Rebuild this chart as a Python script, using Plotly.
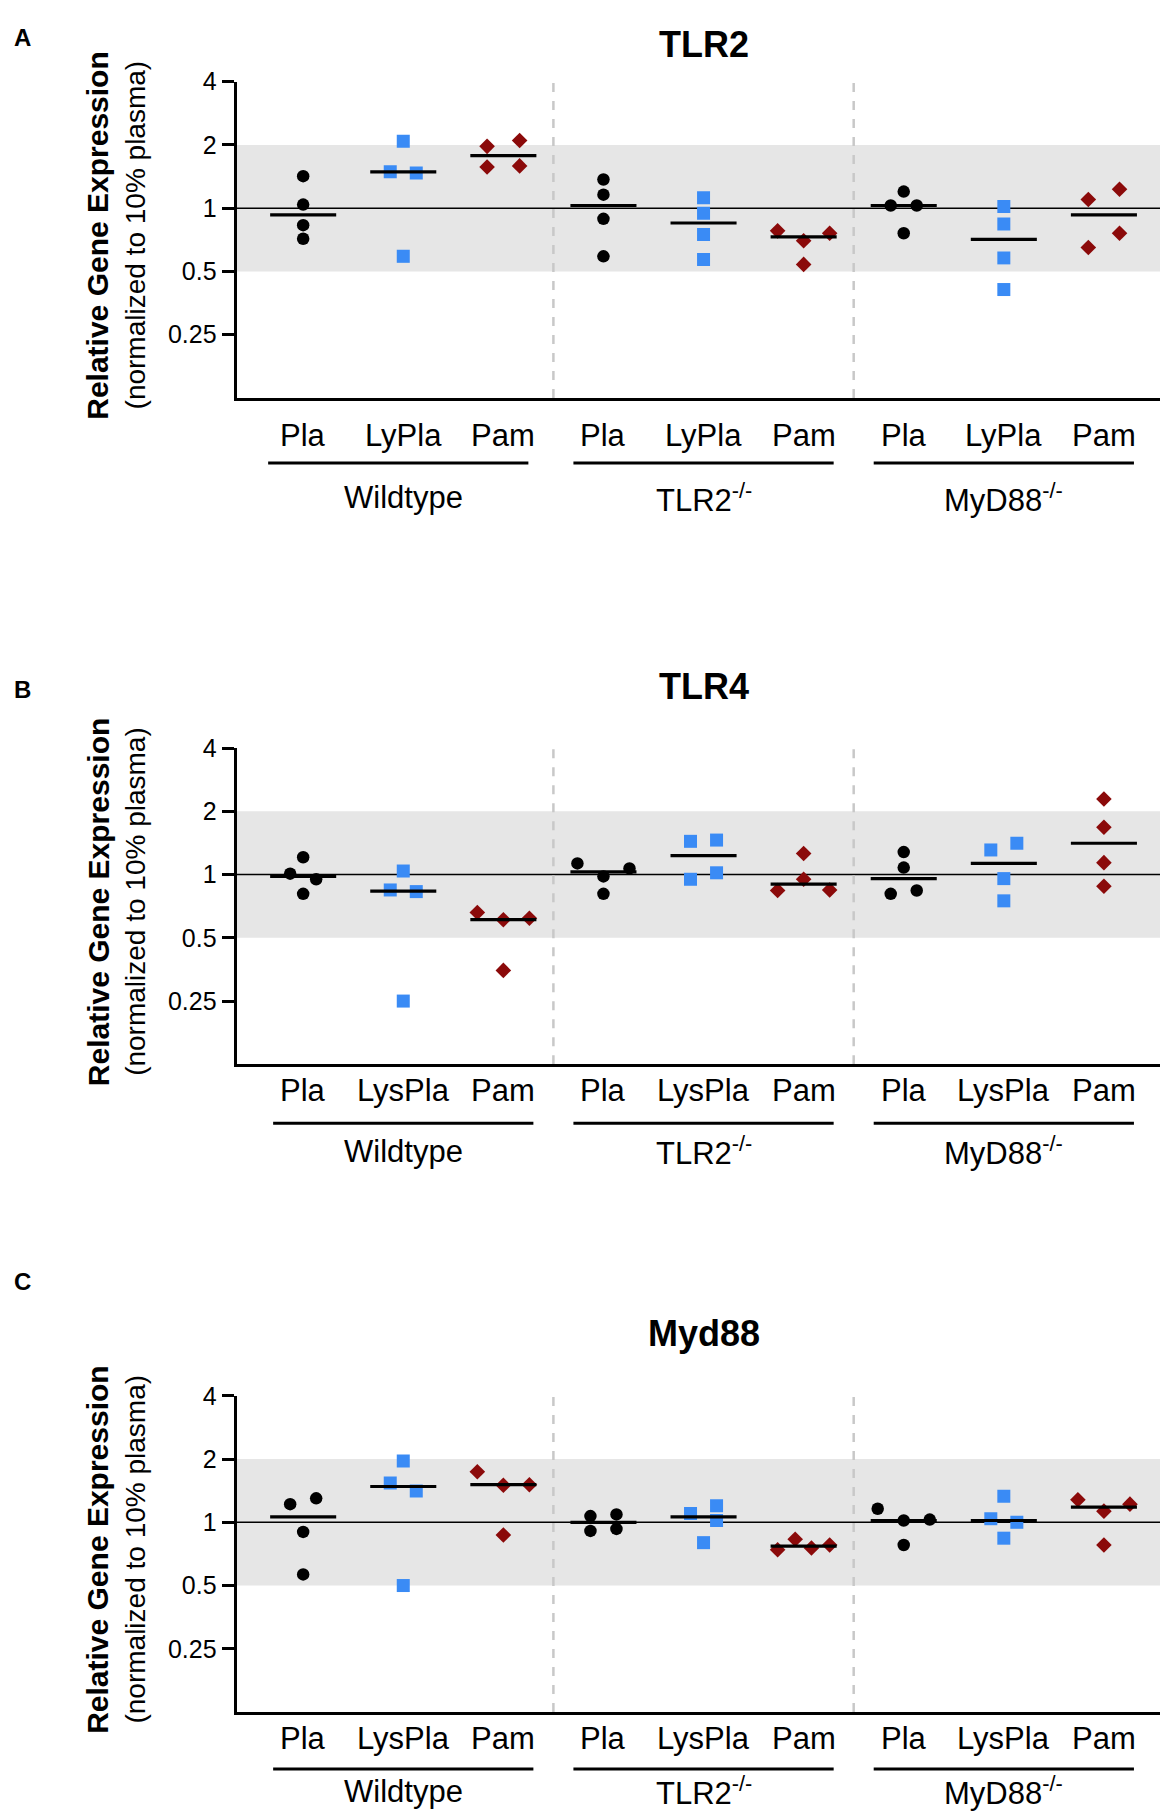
import math
import plotly.graph_objects as go

# Categories / labels
GROUPS = ["Wildtype", "TLR2<sup>-/-</sup>", "MyD88<sup>-/-</sup>"]
TREATMENTS_A = ["Pla", "LyPla", "Pam"]
TREATMENTS_BC = ["Pla", "LysPla", "Pam"]
TICK_VALUES = [0.25, 0.5, 1, 2, 4]
TICK_LABELS = ["0.25", "0.5", "1", "2", "4"]

# Order of the 9 columns: WT Pla, WT Ly, WT Pam, TLR2 Pla, TLR2 Ly, TLR2 Pam, MyD88 Pla, MyD88 Ly, MyD88 Pam
# --- TLR2 panel (A)
tlr2_values = [
    [1.42, 1.04, 0.83, 0.715],
    [2.08, 1.49, 1.47, 0.59],
    [1.97, 2.10, 1.57, 1.59],
    [1.37, 1.16, 0.89, 0.59],
    [1.12, 0.947, 0.75, 0.57],
    [0.78, 0.70, 0.76, 0.54],
    [1.20, 1.03, 1.03, 0.76],
    [1.02, 0.84, 0.58, 0.41],
    [1.10, 1.23, 0.65, 0.76],
]
tlr2_slots = [
    [0, 0, 0, 0], [0, -1, 1, 0], [-1.25, 1.25, -1.25, 1.25],
    [0, 0, 0, 0], [0, 0, 0, 0], [-2, 0, 2, 0],
    [0, -1, 1, 0], [0, 0, 0, 0], [-1.2, 1.2, -1.2, 1.2],
]
tlr2_medians = [0.93, 1.49, 1.78, 1.03, 0.85, 0.73, 1.03, 0.71, 0.93]

# --- TLR4 panel (B)
tlr4_values = [
    [1.21, 1.01, 0.95, 0.81],
    [1.04, 0.845, 0.83, 0.25],
    [0.66, 0.61, 0.62, 0.35],
    [1.13, 1.07, 0.98, 0.81],
    [1.44, 1.46, 0.95, 1.02],
    [1.26, 0.95, 0.84, 0.845],
    [1.28, 1.08, 0.81, 0.84],
    [1.31, 1.41, 0.957, 0.75],
    [2.29, 1.68, 1.14, 0.88],
]
tlr4_slots = [
    [0, -1, 1, 0], [0, -1, 1, 0], [-2, 0, 2, 0],
    [-2, 2, 0, 0], [-1, 1, -1, 1], [0, 0, -2, 2],
    [0, 0, -1, 1], [-1, 1, 0, 0], [0, 0, 0, 0],
]
tlr4_medians = [0.98, 0.835, 0.61, 1.03, 1.23, 0.90, 0.957, 1.13, 1.41]

# --- Myd88 panel (C)
myd88_values = [
    [1.22, 1.30, 0.90, 0.565],
    [1.96, 1.54, 1.41, 0.50],
    [1.74, 1.50, 1.51, 0.87],
    [1.07, 1.09, 0.91, 0.93],
    [1.10, 1.20, 1.02, 0.80],
    [0.83, 0.74, 0.755, 0.78],
    [1.16, 1.02, 1.03, 0.78],
    [1.33, 1.04, 1.00, 0.84],
    [1.28, 1.22, 1.13, 0.78],
]
myd88_slots = [
    [-1, 1, 0, 0], [0, -1, 1, 0], [-2, 0, 2, 0],
    [-1, 1, -1, 1], [-1, 1, 1, 0], [-0.65, -2, 0.6, 2],
    [-2, 0, 2, 0], [0, -1, 1, 0], [-2, 2, 0, 0],
]
myd88_medians = [1.06, 1.48, 1.51, 1.0, 1.06, 0.77, 1.02, 1.02, 1.18]

# Layout: positions measured on the reference page, mapped onto the figure
W, H = 1168, 1812
KX, OX = 1.0047, 8
KY, OY = 1.0084, 21.2
X_LEFT_PX, X_RIGHT_PX = 235.5, 1166
X_RANGE = [-0.665, 8.675]
PLOT_H = 316
SLOT = 0.13
HALF_MEAN = 0.33
FONT = "Arial, Liberation Sans, sans-serif"

panels = [
    dict(title="TLR2", letter="A", treatments=TREATMENTS_A, values=tlr2_values, slots=tlr2_slots,
         medians=tlr2_medians, top=80.7, letter_y=18, cat_dy=38, line_dy=65, group_dy=100,
         line_shift=-0.05),
    dict(title="TLR4", letter="B", treatments=TREATMENTS_BC, values=tlr4_values, slots=tlr4_slots,
         medians=tlr4_medians, top=746.7, letter_y=688, cat_dy=26, line_dy=59, group_dy=87,
         line_shift=0),
    dict(title="Myd88", letter="C", treatments=TREATMENTS_BC, values=myd88_values, slots=myd88_slots,
         medians=myd88_medians, top=1394, letter_y=1280, cat_dy=26, line_dy=57, group_dy=79,
         line_shift=0),
]

styles = [
    dict(symbol="circle", color="#000000", size=12.5),
    dict(symbol="square", color="#3a8bf5", size=13),
    dict(symbol="diamond", color="#8b0a0a", size=12),
]


def ypap(px):
    return 1 - (px * KY - OY) / H


def xpap(px):
    return (px * KX - OX) / W


def top_safe(px, half):
    # keep a text box inside the page at its top edge
    y = ypap(px)
    if y > 1 - half / H:
        return 1, "top"
    return y, "middle"


fig = go.Figure()
shapes = []
annotations = []

for k, p in enumerate(panels):
    sfx = "" if k == 0 else str(k + 1)
    xa, ya = "x" + sfx, "y" + sfx
    top, bottom = p["top"], p["top"] + PLOT_H

    # points
    for t, st in enumerate(styles):
        xs, ys = [], []
        for col in range(t, 9, 3):
            for v, s in zip(p["values"][col], p["slots"][col]):
                xs.append(col + s * SLOT)
                ys.append(v)
        fig.add_trace(go.Scatter(x=xs, y=ys, mode="markers", xaxis=xa, yaxis=ya,
                                 marker=dict(symbol=st["symbol"], color=st["color"], size=st["size"],
                                             line=dict(width=0)),
                                 showlegend=False, hoverinfo="y"))
    # median bars
    mx, my = [], []
    for col, m in enumerate(p["medians"]):
        mx += [col - HALF_MEAN, col + HALF_MEAN, None]
        my += [m, m, None]
    fig.add_trace(go.Scatter(x=mx, y=my, mode="lines", xaxis=xa, yaxis=ya,
                             line=dict(color="black", width=3.2), showlegend=False, hoverinfo="skip"))

    fig.layout["xaxis" + sfx] = dict(
        domain=[xpap(X_LEFT_PX), xpap(X_RIGHT_PX)], range=X_RANGE, anchor=ya,
        showline=True, linewidth=3, linecolor="black", showticklabels=False, ticks="",
        showgrid=False, zeroline=False, fixedrange=True)
    fig.layout["yaxis" + sfx] = dict(
        domain=[ypap(bottom), ypap(top)], type="log",
        range=[math.log10(0.125), math.log10(4)], anchor=xa,
        tickvals=TICK_VALUES, ticktext=TICK_LABELS, ticks="outside", ticklen=12, tickwidth=3,
        tickcolor="black", showline=True, linewidth=3, linecolor="black",
        tickfont=dict(size=25, color="black", family=FONT),
        showgrid=False, zeroline=False, fixedrange=True)

    # grey band 0.5 - 2 and reference line at 1
    shapes.append(dict(type="rect", xref=xa + " domain", yref=ya, x0=0, x1=1,
                       y0=0.5, y1=2, fillcolor="#e6e6e6",
                       line=dict(width=0), layer="below"))
    shapes.append(dict(type="line", xref=xa + " domain", yref=ya, x0=0, x1=1,
                       y0=1, y1=1, line=dict(color="black", width=1.5), layer="below"))
    for sep in (2.5, 5.5):
        shapes.append(dict(type="line", xref=xa, yref=ya + " domain", x0=sep, x1=sep, y0=0, y1=1,
                           line=dict(color="#c8c8c8", width=2.5, dash="dash"), layer="below"))

    # category and group labels
    for col in range(9):
        annotations.append(dict(text=p["treatments"][col % 3], xref=xa, yref="paper", x=col,
                                y=ypap(bottom + p["cat_dy"]), showarrow=False, yanchor="middle",
                                font=dict(size=31, color="black", family=FONT)))
    for g, name in enumerate(GROUPS):
        shift = p["line_shift"] if g == 0 else 0
        shapes.append(dict(type="line", xref=xa, yref="paper",
                           x0=3 * g - 0.3 + shift, x1=3 * g + 2.3 + shift,
                           y0=ypap(bottom + p["line_dy"]), y1=ypap(bottom + p["line_dy"]),
                           line=dict(color="black", width=3)))
        annotations.append(dict(text=name, xref=xa, yref="paper", x=3 * g + 1,
                                y=ypap(bottom + p["group_dy"]), showarrow=False, yanchor="middle",
                                font=dict(size=31, color="black", family=FONT)))

    # title, panel letter, y title
    ty, tanchor = top_safe(top - 62, 22)
    annotations.append(dict(text="<b>%s</b>" % p["title"], xref="paper", yref="paper",
                            x=xpap(701), y=ty, yanchor=tanchor, showarrow=False,
                            font=dict(size=36, color="black", family=FONT)))
    ly, lanchor = top_safe(p["letter_y"], 15)
    annotations.append(dict(text="<b>%s</b>" % p["letter"], xref="paper", yref="paper",
                            x=xpap(12), y=ly, yanchor=lanchor, showarrow=False,
                            font=dict(size=24, color="black", family=FONT)))
    annotations.append(dict(text="<b>Relative Gene Expression</b>", xref="paper", yref="paper",
                            x=xpap(97.5), y=ypap(top + 153), textangle=-90, showarrow=False,
                            xanchor="center", yanchor="middle",
                            font=dict(size=30, color="black", family=FONT)))
    annotations.append(dict(text="(normalized to 10% plasma)", xref="paper", yref="paper",
                            x=xpap(135), y=ypap(top + 153), textangle=-90, showarrow=False,
                            xanchor="center", yanchor="middle",
                            font=dict(size=28, color="black", family=FONT)))

fig.update_layout(
    width=W, height=H, margin=dict(l=0, r=0, t=0, b=0),
    paper_bgcolor="white", plot_bgcolor="rgba(0,0,0,0)",
    shapes=shapes, annotations=annotations, showlegend=False,
    font=dict(family=FONT, color="black"),
)

fig.write_html("out.html")
